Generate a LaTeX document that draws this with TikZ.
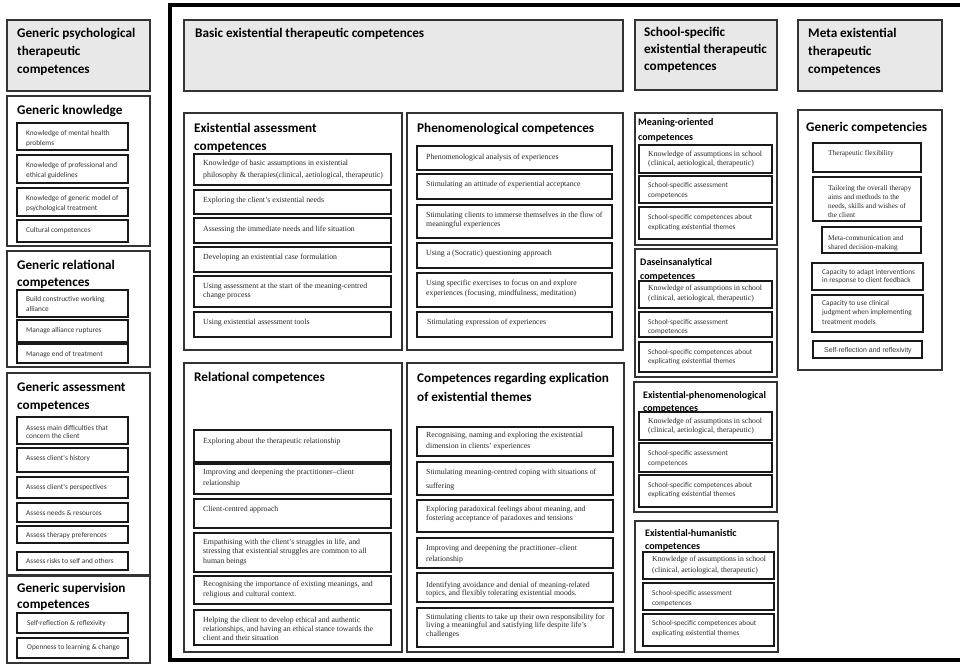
\documentclass[tikz,border=0pt]{standalone}
\usepackage{fontspec}
\setmainfont{Liberation Serif}
\newfontfamily\carl{Carlito}
\newfontfamily\arl{Liberation Sans}
\makeatletter
\newcommand\lns[2]{{\fontsize{\f@size}{#1}\selectfont\begin{tabular}[t]{@{}l@{}}#2\end{tabular}}}
\makeatother
\newcommand\bx[6]{\node[#1, anchor=north west, inner sep=0pt, outer sep=0pt, minimum width=#5pt, minimum height=#6pt] (#2) at (#3,#4) {};}
\newcommand\tx[6]{\node[#1, anchor=base west, inner sep=0pt] (#2) at (#3,#4) {\lns{#5}{#6}};}
\tikzset{
  hdr/.style={draw=black!80, fill=black!9, line width=1.4pt},
  grp/.style={draw=black!80, line width=1.3pt},
  ibx/.style={draw=black!90, line width=1.7pt},
  frm/.style={draw=black, line width=3.5pt},
  hd/.style={font=\carl\bfseries\fontsize{13.2}{18}\selectfont},
  sh/.style={font=\carl\bfseries\fontsize{10}{14}\selectfont},
  ser/.style={font=\fontsize{7.8}{9}\selectfont, text=black!85},
  serm/.style={font=\fontsize{7.3}{9}\selectfont, text=black!85},
  sers/.style={font=\fontsize{7.7}{9}\selectfont, text=black!85},
  san/.style={font=\carl\fontsize{7.3}{10}\selectfont, text=black!80},
  ars/.style={font=\arl\fontsize{7}{8}\selectfont, text=black!80},
}
\begin{document}
\begin{tikzpicture}[x=1pt,y=-1pt]
\useasboundingbox (0,0) rectangle (960,665);
% ---------------- left column ----------------
\bx{hdr}{gp}{7}{20}{143}{71}
\tx{hd}{gpt}{17}{37}{18}{Generic psychological\\therapeutic\\competences}
\bx{grp}{gk}{7}{96}{143}{150}
\tx{hd}{gkt}{17}{114}{18}{Generic knowledge}
\bx{ibx}{gk1}{17}{123}{111}{27}\tx{san}{gk1t}{26}{135}{10}{Knowledge of mental health\\problems}
\bx{ibx}{gk2}{17}{155}{111}{28}\tx{san}{gk2t}{26}{167}{10}{Knowledge of professional and\\ethical guidelines}
\bx{ibx}{gk3}{17}{188}{111}{28}\tx{san}{gk3t}{26}{200}{10}{Knowledge of generic model of\\psychological treatment}
\bx{ibx}{gk4}{17}{220}{111}{22}\tx{san}{gk4t}{26}{232}{10}{Cultural competences}
\bx{grp}{gr}{7}{251}{143}{116}
\tx{hd}{grt}{17}{269}{17}{Generic relational\\competences}
\bx{ibx}{gr1}{17}{290}{111}{27}\tx{san}{gr1t}{26}{301}{10}{Build constructive working\\alliance}
\bx{ibx}{gr2}{17}{320}{111}{22}\tx{san}{gr2t}{26}{332}{10}{Manage alliance ruptures}
\bx{ibx}{gr3}{17}{344}{111}{19}\tx{san}{gr3t}{26}{356}{10}{Manage end of treatment}
\bx{grp}{ga}{7}{373}{143}{202}
\tx{hd}{gat}{17}{391}{18}{Generic assessment\\competences}
\bx{ibx}{ga1}{17}{417}{111}{27}\tx{san}{ga1t}{26}{430}{8.5}{Assess main difficulties that\\concern the client}
\bx{ibx}{ga2}{17}{448}{111}{24}\tx{san}{ga2t}{26}{460}{10}{Assess client's history}
\bx{ibx}{ga3}{17}{477}{111}{21}\tx{san}{ga3t}{26}{489}{10}{Assess client's perspectives}
\bx{ibx}{ga4}{17}{503}{111}{19}\tx{san}{ga4t}{26}{515}{10}{Assess needs \& resources}
\bx{ibx}{ga5}{17}{526}{111}{17}\tx{san}{ga5t}{26}{537}{10}{Assess therapy preferences}
\bx{ibx}{ga6}{17}{552}{111}{18}\tx{san}{ga6t}{26}{563}{10}{Assess risks to self and others}
\bx{grp}{gs}{7}{576}{143}{87}
\tx{hd}{gst}{17}{592}{16}{Generic supervision\\competences}
\bx{ibx}{gs1}{17}{613}{111}{20}\tx{san}{gs1t}{27}{625}{10}{Self-reflection \& reflexivity}
\bx{ibx}{gs2}{17}{638}{111}{20}\tx{san}{gs2t}{27}{649}{10}{Openness to learning \& change}
% ---------------- main frame ----------------
\bx{frm}{frame}{170}{5}{798}{655}
% basic
\bx{hdr}{basic}{184}{20}{439}{71}
\tx{hd}{basict}{195}{37}{18}{Basic existential therapeutic competences}
\bx{grp}{ea}{184}{113}{218}{237}
\tx{hd}{eat}{194}{132}{18}{Existential assessment\\competences}
\bx{ibx}{ea1}{194}{154}{197}{31}\tx{ser}{ea1t}{203}{165}{12}{Knowledge of basic assumptions in existential\\philosophy \& therapies(clinical, aetiological, therapeutic)}
\bx{ibx}{ea2}{194}{190}{197}{24}\tx{ser}{ea2t}{203}{202}{9}{Exploring the client's existential needs}
\bx{ibx}{ea3}{194}{218}{197}{25}\tx{ser}{ea3t}{203}{231}{9}{Assessing the immediate needs and life situation}
\bx{ibx}{ea4}{194}{247}{197}{25}\tx{ser}{ea4t}{203}{259}{9}{Developing an existential case formulation}
\bx{ibx}{ea5}{194}{276}{197}{31}\tx{ser}{ea5t}{203}{288}{9}{Using assessment at the start of the meaning-centred\\change process}
\bx{ibx}{ea6}{194}{312}{197}{25}\tx{ser}{ea6t}{203}{324}{9}{Using existential assessment tools}
\bx{grp}{ph}{407}{113}{216}{237}
\tx{hd}{pht}{417}{132}{18}{Phenomenological competences}
\bx{ibx}{ph1}{417}{146}{195}{24}\tx{ser}{ph1t}{426}{159}{9}{Phenomenological analysis of experiences}
\bx{ibx}{ph2}{417}{174}{195}{25}\tx{ser}{ph2t}{426}{186}{9}{Stimulating an attitude of experiential acceptance}
\bx{ibx}{ph3}{417}{205}{195}{33}\tx{ser}{ph3t}{426}{217}{9}{Stimulating clients to immerse themselves in the flow of\\meaningful experiences}
\bx{ibx}{ph4}{417}{243}{195}{25}\tx{ser}{ph4t}{426}{255}{9}{Using a (Socratic) questioning approach}
\bx{ibx}{ph5}{417}{273}{195}{34}\tx{ser}{ph5t}{426}{285}{10}{Using specific exercises to focus on and explore\\experiences (focusing, mindfulness, meditation)}
\bx{ibx}{ph6}{417}{312}{195}{25}\tx{ser}{ph6t}{427}{324}{9}{Stimulating expression of experiences}
\bx{grp}{rel}{184}{363}{218}{289}
\tx{hd}{relt}{194}{381}{18}{Relational competences}
\bx{ibx}{rel1}{194}{430}{197}{32}\tx{ser}{rel1t}{203}{443}{9}{Exploring about the therapeutic relationship}
\bx{ibx}{rel2}{194}{464}{197}{30}\tx{ser}{rel2t}{203}{474}{11}{Improving and deepening the practitioner--client\\relationship}
\bx{ibx}{rel3}{194}{499}{197}{29}\tx{ser}{rel3t}{203}{511}{9}{Client-centred approach}
\bx{ibx}{rel4}{194}{533}{197}{39}\tx{ser}{rel4t}{203}{544}{9.5}{Empathising with the client's struggles in life, and\\stressing that existential struggles are common to all\\human beings}
\bx{ibx}{rel5}{194}{576}{197}{28}\tx{ser}{rel5t}{203}{586}{10}{Recognising the importance of existing meanings, and\\religious and cultural context.}
\bx{ibx}{rel6}{194}{610}{197}{35}\tx{ser}{rel6t}{203}{622}{9}{Helping the client to develop ethical and authentic\\relationships, and having an ethical stance towards the\\client and their situation}
\bx{grp}{ex}{407}{363}{217}{289}
\tx{hd}{ext}{417}{382}{19}{Competences regarding explication\\of existential themes}
\bx{ibx}{ex1}{417}{427}{196}{29}\tx{ser}{ex1t}{426}{437}{11}{Recognising, naming and exploring the existential\\dimension in clients' experiences}
\bx{ibx}{ex2}{417}{462}{196}{33}\tx{ser}{ex2t}{426}{474}{14}{Stimulating meaning-centred coping with situations of\\suffering}
\bx{ibx}{ex3}{417}{500}{196}{32}\tx{ser}{ex3t}{426}{511}{9}{Exploring paradoxical feelings about meaning, and\\fostering acceptance of paradoxes and tensions}
\bx{ibx}{ex4}{417}{538}{196}{30}\tx{ser}{ex4t}{426}{550}{11}{Improving and deepening the practitioner--client\\relationship}
\bx{ibx}{ex5}{417}{573}{196}{29}\tx{ser}{ex5t}{426}{587}{8.5}{Identifying avoidance and denial of meaning-related\\topics, and flexibly tolerating existential moods.}
\bx{ibx}{ex6}{417}{608}{196}{39}\tx{ser}{ex6t}{426}{619}{8.5}{Stimulating clients to take up their own responsibility for\\living a meaningful and satisfying life despite life's\\challenges}
% ---------------- school-specific ----------------
\bx{hdr}{school}{635}{20}{142}{70}
\tx{hd}{schoolt}{644}{36}{17}{School-specific\\existential therapeutic\\competences}
\bx{grp}{mo}{635}{113}{142}{132}
\tx{sh}{mot}{638}{125}{15}{Meaning-oriented\\competences}
\bx{ibx}{mo1}{639}{145}{133}{28}\tx{sers}{mo1t}{648}{156}{9}{Knowledge of assumptions in school\\(clinical, aetiological, therapeutic)}
\bx{ibx}{mo2}{639}{176}{133}{27}\tx{san}{mo2t}{648}{187}{10}{School-specific assessment\\competences}
\bx{ibx}{mo3}{639}{207}{133}{32}\tx{san}{mo3t}{648}{219}{10}{School-specific competences about\\explicating existential themes}
\bx{grp}{da}{635}{249}{142}{128}
\tx{sh}{dat}{640}{265}{14}{Daseinsanalytical\\competences}
\bx{ibx}{da1}{639}{281}{133}{27}\tx{sers}{da1t}{648}{290}{10}{Knowledge of assumptions in school\\(clinical, aetiological, therapeutic)}
\bx{ibx}{da2}{639}{312}{133}{25}\tx{san}{da2t}{648}{324}{9}{School-specific assessment\\competences}
\bx{ibx}{da3}{639}{342}{133}{30}\tx{san}{da3t}{648}{354}{9}{School-specific competences about\\explicating existential themes}
\bx{grp}{epi}{634}{382}{143}{130}
\tx{sh}{epit}{643}{398}{13}{Existential-phenomenological\\competences}
\bx{ibx}{epi1}{639}{412}{133}{28}\tx{sers}{epi1t}{648}{423}{9}{Knowledge of assumptions in school\\(clinical, aetiological, therapeutic)}
\bx{ibx}{epi2}{639}{443}{133}{29}\tx{san}{epi2t}{648}{455}{10}{School-specific assessment\\competences}
\bx{ibx}{epi3}{639}{475}{133}{32}\tx{san}{epi3t}{648}{487}{9}{School-specific competences about\\explicating existential themes}
\bx{grp}{eh}{635}{521}{143}{131}
\tx{sh}{eht}{645}{536}{13}{Existential-humanistic\\competences}
\bx{ibx}{eh1}{643}{552}{131}{27}\tx{sers}{eh1t}{652}{561}{11}{Knowledge of assumptions in school\\(clinical, aetiological, therapeutic)}
\bx{ibx}{eh2}{643}{583}{131}{27}\tx{san}{eh2t}{652}{595}{10}{School-specific assessment\\competences}
\bx{ibx}{eh3}{643}{614}{131}{32}\tx{san}{eh3t}{652}{625}{10}{School-specific competences about\\explicating existential themes}
% ---------------- meta ----------------
\bx{hdr}{meta}{798}{20}{144}{71}
\tx{hd}{metat}{808}{37}{18}{Meta existential\\therapeutic\\competences}
\bx{grp}{gc}{798}{110}{144}{260}
\tx{hd}{gct}{806}{131}{18}{Generic competencies}
\bx{ibx}{m1}{813}{143}{108}{29}\tx{serm}{m1t}{828}{155}{9}{Therapeutic flexibility}
\bx{ibx}{m2}{813}{177}{108}{44}\tx{serm}{m2t}{828}{190}{9}{Tailoring the overall therapy\\aims and methods to the\\needs, skills and wishes of\\the client}
\bx{ibx}{m3}{822}{227}{99}{26}\tx{serm}{m3t}{828}{240}{9}{Meta-communication and\\shared decision-making}
\bx{ibx}{m4}{812}{263}{111}{27}\tx{san}{m4t}{822}{274}{8.5}{Capacity to adapt interventions\\in response to client feedback}
\bx{ibx}{m5}{812}{295}{111}{37}\tx{san}{m5t}{822}{305}{9.5}{Capacity to use clinical\\judgment when implementing\\treatment models}
\bx{ibx}{m6}{813}{341}{109}{17}\tx{ars}{m6t}{824}{352}{8}{Self-reflection and reflexivity}
\end{tikzpicture}
\end{document}
